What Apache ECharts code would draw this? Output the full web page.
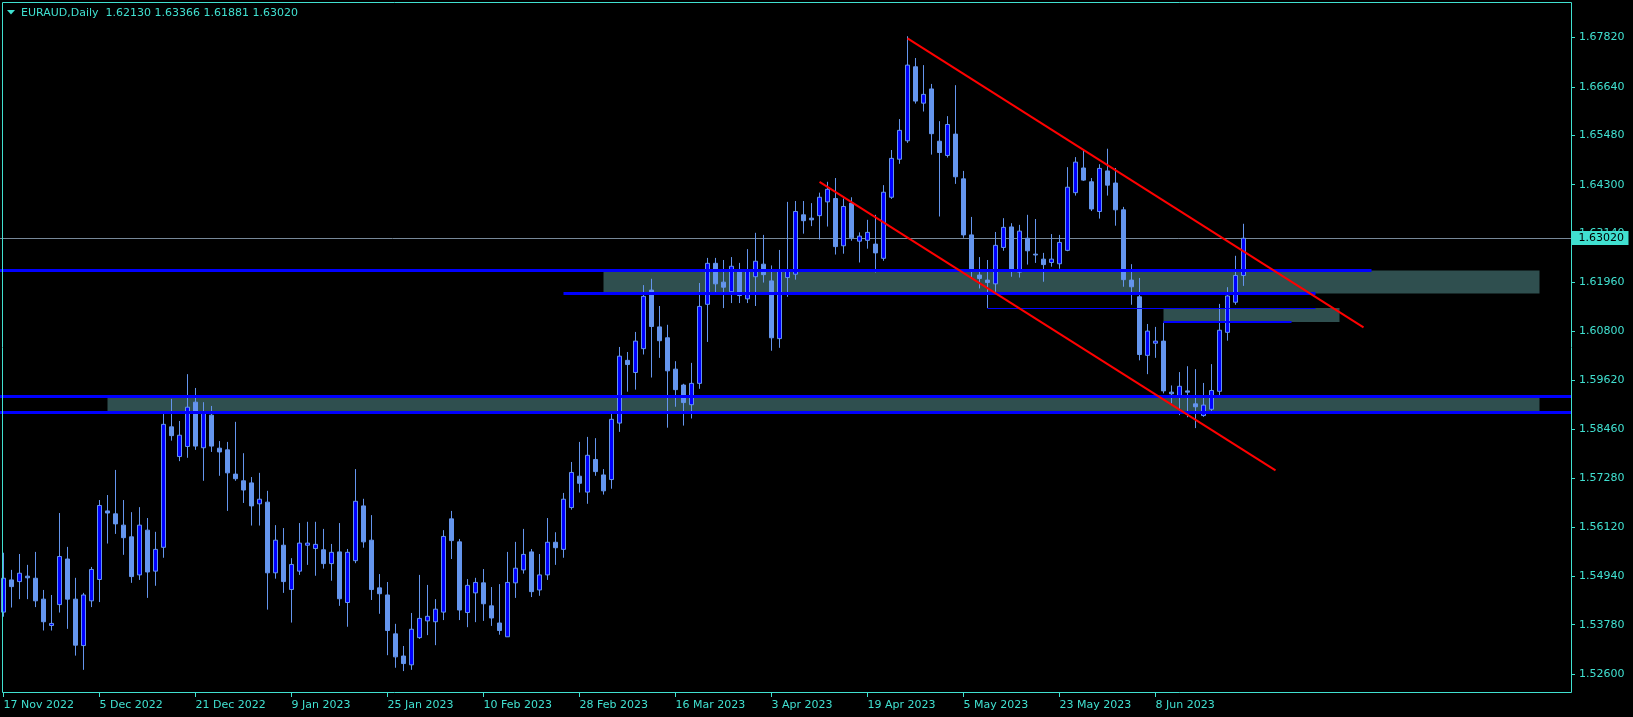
<!DOCTYPE html>
<html><head><meta charset="utf-8">
<script src="https://cdn.jsdelivr.net/npm/echarts@6/dist/echarts.min.js"></script>
<style>html,body{margin:0;padding:0;background:#000;overflow:hidden}#c{width:1633px;height:717px}</style>
</head><body><div id="c"></div>
<script>
// ---------------- data ----------------
const symbol = 'EURAUD';
const period = 'Daily';
const firstDate = '2022-11-17';
const holidays = ['2023-01-02'];
const futureBars = 40;
// [open, high, low, close]
const candles = [
[1.5408,1.5550,1.5397,1.5489],[1.5485,1.5509,1.5419,1.5469],[1.5481,1.5547,1.5439,1.5501],[1.5494,1.5521,1.5439,1.5490],
[1.5489,1.5552,1.5420,1.5435],[1.5439,1.5461,1.5364,1.5385],[1.5376,1.5449,1.5364,1.5381],[1.5426,1.5645,1.5407,1.5541],
[1.5535,1.5564,1.5368,1.5439],[1.5439,1.5490,1.5304,1.5329],[1.5328,1.5454,1.5270,1.5449],[1.5435,1.5516,1.5420,1.5510],
[1.5486,1.5676,1.5432,1.5663],[1.5650,1.5688,1.5572,1.5645],[1.5643,1.5748,1.5595,1.5619],[1.5616,1.5676,1.5545,1.5586],
[1.5588,1.5647,1.5478,1.5493],[1.5497,1.5659,1.5485,1.5616],[1.5604,1.5633,1.5442,1.5504],[1.5506,1.5600,1.5471,1.5558],
[1.5563,1.5883,1.5538,1.5857],[1.5851,1.5918,1.5818,1.5830],[1.5780,1.5865,1.5769,1.5831],[1.5804,1.5977,1.5777,1.5898],
[1.5910,1.5944,1.5796,1.5805],[1.5801,1.5910,1.5722,1.5884],[1.5879,1.5901,1.5791,1.5805],[1.5800,1.5817,1.5734,1.5791],
[1.5796,1.5815,1.5650,1.5741],[1.5738,1.5863,1.5722,1.5727],[1.5722,1.5788,1.5669,1.5700],[1.5717,1.5731,1.5615,1.5662],
[1.5667,1.5741,1.5615,1.5678],[1.5671,1.5698,1.5414,1.5502],[1.5502,1.5616,1.5488,1.5580],[1.5568,1.5609,1.5454,1.5481],
[1.5462,1.5537,1.5383,1.5522],[1.5506,1.5621,1.5497,1.5573],[1.5568,1.5624,1.5521,1.5573],[1.5560,1.5624,1.5495,1.5570],
[1.5557,1.5607,1.5512,1.5524],[1.5524,1.5571,1.5483,1.5551],[1.5552,1.5621,1.5423,1.5440],[1.5431,1.5559,1.5373,1.5551],
[1.5531,1.5750,1.5525,1.5673],[1.5662,1.5679,1.5562,1.5576],[1.5580,1.5640,1.5437,1.5462],[1.5466,1.5499,1.5404,1.5452],
[1.5449,1.5480,1.5305,1.5364],[1.5356,1.5380,1.5275,1.5301],[1.5303,1.5327,1.5267,1.5285],[1.5282,1.5406,1.5270,1.5367],
[1.5347,1.5497,1.5344,1.5393],[1.5387,1.5473,1.5353,1.5398],[1.5385,1.5439,1.5329,1.5415],[1.5408,1.5604,1.5389,1.5589],
[1.5631,1.5650,1.5535,1.5579],[1.5576,1.5583,1.5389,1.5413],[1.5407,1.5487,1.5372,1.5472],[1.5454,1.5490,1.5384,1.5479],
[1.5478,1.5511,1.5387,1.5428],[1.5423,1.5468,1.5375,1.5394],[1.5382,1.5475,1.5354,1.5364],[1.5349,1.5552,1.5349,1.5479],
[1.5478,1.5576,1.5442,1.5513],[1.5509,1.5607,1.5500,1.5546],[1.5552,1.5559,1.5444,1.5457],[1.5461,1.5547,1.5447,1.5497],
[1.5497,1.5633,1.5485,1.5575],[1.5575,1.5599,1.5521,1.5562],[1.5558,1.5693,1.5538,1.5678],[1.5658,1.5767,1.5653,1.5742],
[1.5733,1.5815,1.5694,1.5716],[1.5695,1.5827,1.5667,1.5783],[1.5773,1.5824,1.5734,1.5744],[1.5736,1.5750,1.5689,1.5698],
[1.5725,1.5884,1.5703,1.5869],[1.5860,1.6042,1.5839,1.6020],[1.6010,1.6030,1.5935,1.6000],[1.5981,1.6078,1.5940,1.6056],
[1.6038,1.6190,1.6024,1.6163],[1.6178,1.6205,1.5969,1.6091],[1.6090,1.6140,1.6016,1.6057],[1.6064,1.6095,1.5849,1.5985],
[1.5989,1.6008,1.5899,1.5940],[1.5951,1.5954,1.5854,1.5909],[1.5904,1.6004,1.5871,1.5955],[1.5955,1.6195,1.5942,1.6139],
[1.6144,1.6255,1.6054,1.6242],[1.6242,1.6255,1.6172,1.6193],[1.6197,1.6250,1.6135,1.6185],[1.6174,1.6257,1.6147,1.6235],
[1.6223,1.6243,1.6147,1.6165],[1.6157,1.6276,1.6147,1.6224],[1.6210,1.6315,1.6140,1.6247],[1.6240,1.6310,1.6196,1.6215],
[1.6200,1.6237,1.6033,1.6064],[1.6062,1.6274,1.6040,1.6223],[1.6208,1.6389,1.6162,1.6224],[1.6216,1.6391,1.6203,1.6366],
[1.6358,1.6391,1.6313,1.6344],[1.6350,1.6386,1.6331,1.6346],[1.6356,1.6411,1.6299,1.6400],[1.6389,1.6437,1.6330,1.6419],
[1.6397,1.6446,1.6263,1.6282],[1.6284,1.6397,1.6265,1.6378],[1.6386,1.6400,1.6296,1.6303],[1.6295,1.6316,1.6244,1.6307],
[1.6297,1.6346,1.6277,1.6316],[1.6288,1.6358,1.6220,1.6267],[1.6254,1.6429,1.6248,1.6412],[1.6400,1.6513,1.6396,1.6493],
[1.6491,1.6587,1.6480,1.6560],[1.6535,1.6785,1.6530,1.6716],[1.6712,1.6733,1.6624,1.6630],[1.6625,1.6716,1.6605,1.6646],
[1.6659,1.6671,1.6502,1.6552],[1.6534,1.6582,1.6354,1.6507],[1.6500,1.6594,1.6495,1.6574],[1.6551,1.6668,1.6432,1.6449],
[1.6444,1.6463,1.6303,1.6310],[1.6310,1.6353,1.6208,1.6226],[1.6214,1.6257,1.6182,1.6206],[1.6202,1.6250,1.6135,1.6196],
[1.6193,1.6317,1.6174,1.6285],[1.6280,1.6350,1.6272,1.6328],[1.6329,1.6338,1.6210,1.6226],[1.6221,1.6334,1.6208,1.6319],
[1.6302,1.6358,1.6239,1.6272],[1.6264,1.6348,1.6243,1.6262],[1.6252,1.6267,1.6198,1.6239],[1.6244,1.6312,1.6234,1.6252],
[1.6241,1.6310,1.6229,1.6292],[1.6273,1.6472,1.6271,1.6424],[1.6411,1.6496,1.6404,1.6484],[1.6470,1.6515,1.6439,1.6441],
[1.6437,1.6446,1.6367,1.6372],[1.6366,1.6479,1.6349,1.6469],[1.6463,1.6516,1.6404,1.6429],[1.6434,1.6470,1.6332,1.6370],
[1.6370,1.6377,1.6186,1.6203],[1.6202,1.6240,1.6143,1.6186],[1.6162,1.6207,1.6010,1.6024],[1.6022,1.6097,1.5977,1.6080],
[1.6051,1.6090,1.6016,1.6056],[1.6056,1.6100,1.5931,1.5937],[1.5934,1.5950,1.5907,1.5930],[1.5926,1.5982,1.5879,1.5948],
[1.5937,1.5996,1.5874,1.5934],[1.5906,1.5989,1.5848,1.5899],[1.5878,1.5956,1.5875,1.5903],[1.5893,1.6001,1.5885,1.5938],
[1.5936,1.6145,1.5923,1.6082],[1.6077,1.6185,1.6057,1.6164],[1.6149,1.6260,1.6143,1.6213],[1.62130,1.63366,1.61881,1.63020]
];
const yTickValues = [1.5260,1.5378,1.5494,1.5612,1.5728,1.5846,1.5962,1.6080,1.6196,1.6314,1.6430,1.6548,1.6664,1.6782];
// horizontal levels: [price, fromBar, toBar]  (null = chart edge)
const thickLevels = [[1.6225,null,171],[1.6170,70,164],[1.5924,null,null],[1.5886,null,null]];
const mediumLevels = [[1.6102,145,161]];
const thinLevels = [[1.6135,123,164]];
// zones: [priceTop, priceBottom, fromBar, toBar]
const zones = [[1.6225,1.6170,75,192],[1.5924,1.5886,13,192],[1.6135,1.6102,145,167]];
// trend lines: [bar1, price1, bar2, price2]
const trendLines = [[102,1.6437,159,1.5747],[113,1.6780,170,1.6089]];

// ---------------- layout / style ----------------
const FG = '#40E0D0';
const FONT = '"DejaVu Sans", Verdana, sans-serif';
const BAR_STEP = 8;
const AXIS_OFFSET = 3.5;
const Y_MIN = 1.52146, Y_MAX = 1.68669;

const months = ['Jan','Feb','Mar','Apr','May','Jun','Jul','Aug','Sep','Oct','Nov','Dec'];
const dates = [];
{
  let t = Date.parse(firstDate + 'T00:00:00Z');
  while (dates.length < candles.length + futureBars) {
    const d = new Date(t);
    const wd = d.getUTCDay();
    const iso = d.toISOString().slice(0, 10);
    if (wd !== 0 && wd !== 6 && holidays.indexOf(iso) < 0) {
      dates.push(d.getUTCDate() + ' ' + months[d.getUTCMonth()] + ' ' + d.getUTCFullYear());
    }
    t += 86400000;
  }
}
const nBars = candles.length;
const last = candles[nBars - 1];
const showIdx = (i) => i % 12 === 0 && i < nBars;

function levelSeries(list, width, z) {
  return {
    type: 'custom', z: z, clip: false, silent: true,
    data: list.map(l => [l[1] == null ? 0 : l[1], l[0]]),
    renderItem: (params, api) => {
      const l = list[params.dataIndex];
      const cs = params.coordSys;
      let y = api.coord([0, l[0]])[1];
      if (width % 2 === 1) y = Math.round(y - 0.5) + 0.5; else y = Math.round(y);
      const x1 = l[1] == null ? cs.x : api.coord([l[1], l[0]])[0];
      const x2 = l[2] == null ? cs.x + cs.width + AXIS_OFFSET : api.coord([l[2], l[0]])[0];
      return { type: 'line', shape: { x1: x1, y1: y, x2: x2, y2: y }, style: { stroke: '#0000FF', lineWidth: width } };
    }
  };
}

const chart = echarts.init(document.getElementById('c'), null, { renderer: 'canvas' });
chart.setOption({
  animation: false,
  backgroundColor: '#000000',
  grid: { left: -0.5, top: 2, width: BAR_STEP * dates.length, height: 691, containLabel: false, outerBoundsMode: 'none' },
  xAxis: {
    type: 'category', data: dates, boundaryGap: true,
    axisLine: { show: false },
    axisTick: { show: true, interval: (i) => showIdx(i), alignWithLabel: true, length: 4, lineStyle: { color: FG } },
    axisLabel: { interval: (i) => showIdx(i), align: 'left', color: FG, fontFamily: FONT, fontSize: 11, margin: 7 },
    splitLine: { show: false }
  },
  yAxis: {
    type: 'value', position: 'right', offset: AXIS_OFFSET, min: Y_MIN, max: Y_MAX,
    axisLine: { show: false },
    axisTick: { show: true, customValues: yTickValues, length: 4, lineStyle: { color: FG } },
    axisLabel: { customValues: yTickValues, formatter: v => v.toFixed(5), color: FG, fontFamily: FONT, fontSize: 11, margin: 8 },
    splitLine: { show: false }
  },
  series: [
    { // zones (background)
      type: 'custom', z: 1, clip: true, silent: true,
      data: zones.map(zn => [zn[2], zn[0]]),
      renderItem: (params, api) => {
        const zn = zones[params.dataIndex];
        const a = api.coord([zn[2], zn[0]]), b = api.coord([zn[3], zn[1]]);
        return { type: 'rect', shape: { x: a[0], y: a[1], width: b[0] - a[0], height: b[1] - a[1] }, style: { fill: '#2F4F4F' } };
      }
    },
    { // bid line
      type: 'custom', z: 1, clip: false, silent: true,
      data: [[nBars - 1, last[3]]],
      renderItem: (params, api) => {
        const cs = params.coordSys;
        const y = Math.round(api.coord([0, last[3]])[1] - 0.5) + 0.5;
        return { type: 'line', shape: { x1: cs.x, y1: y, x2: cs.x + cs.width + AXIS_OFFSET, y2: y }, style: { stroke: '#778899', lineWidth: 1 } };
      }
    },
    {
      type: 'candlestick', z: 2, barWidth: 4, silent: true,
      data: candles.map(c => [c[0], c[3], c[2], c[1]]),
      itemStyle: { color: '#0000FF', color0: '#6495ED', borderColor: '#6495ED', borderColor0: '#6495ED', borderWidth: 1 }
    },
    levelSeries(thickLevels, 3, 3),
    levelSeries(mediumLevels, 2, 3),
    levelSeries(thinLevels, 1, 3),
    { // trend lines
      type: 'custom', z: 4, clip: true, silent: true,
      data: trendLines.map(t => [t[0], t[1]]),
      renderItem: (params, api) => {
        const t = trendLines[params.dataIndex];
        const a = api.coord([t[0], t[1]]), b = api.coord([t[2], t[3]]);
        return { type: 'line', shape: { x1: a[0], y1: a[1], x2: b[0], y2: b[1] }, style: { stroke: '#FF0000', lineWidth: 2 } };
      }
    },
    { // current price label on axis
      type: 'custom', z: 10, clip: false, silent: true,
      data: [[nBars - 1, last[3]]],
      renderItem: (params, api) => {
        const cs = params.coordSys;
        const y = api.coord([0, last[3]])[1];
        const x = cs.x + cs.width + AXIS_OFFSET + 0.5;
        return { type: 'group', children: [
          { type: 'rect', shape: { x: x, y: Math.round(y) - 7, width: 57, height: 14 }, style: { fill: FG } },
          { type: 'text', style: { text: last[3].toFixed(5), x: x + 7, y: y, fill: '#000000', font: '11px ' + FONT, align: 'left', verticalAlign: 'middle', textAlign: 'left', textVerticalAlign: 'middle' } }
        ] };
      }
    }
  ],
  graphic: [
    { type: 'rect', z: 100, silent: true, shape: { x: 2.5, y: 2.5, width: 1569, height: 690 }, style: { fill: null, stroke: FG, lineWidth: 1 } },
    { type: 'polygon', z: 100, silent: true, shape: { points: [[7, 10], [15, 10], [11, 14.5]] }, style: { fill: FG } },
    { type: 'text', z: 100, silent: true, style: {
        text: symbol + ',' + period + '  ' + last.map(v => v.toFixed(5)).join(' '),
        x: 21, y: 13, fill: FG, font: '11px ' + FONT, textVerticalAlign: 'middle', verticalAlign: 'middle' } }
  ]
});
</script>
</body></html>
